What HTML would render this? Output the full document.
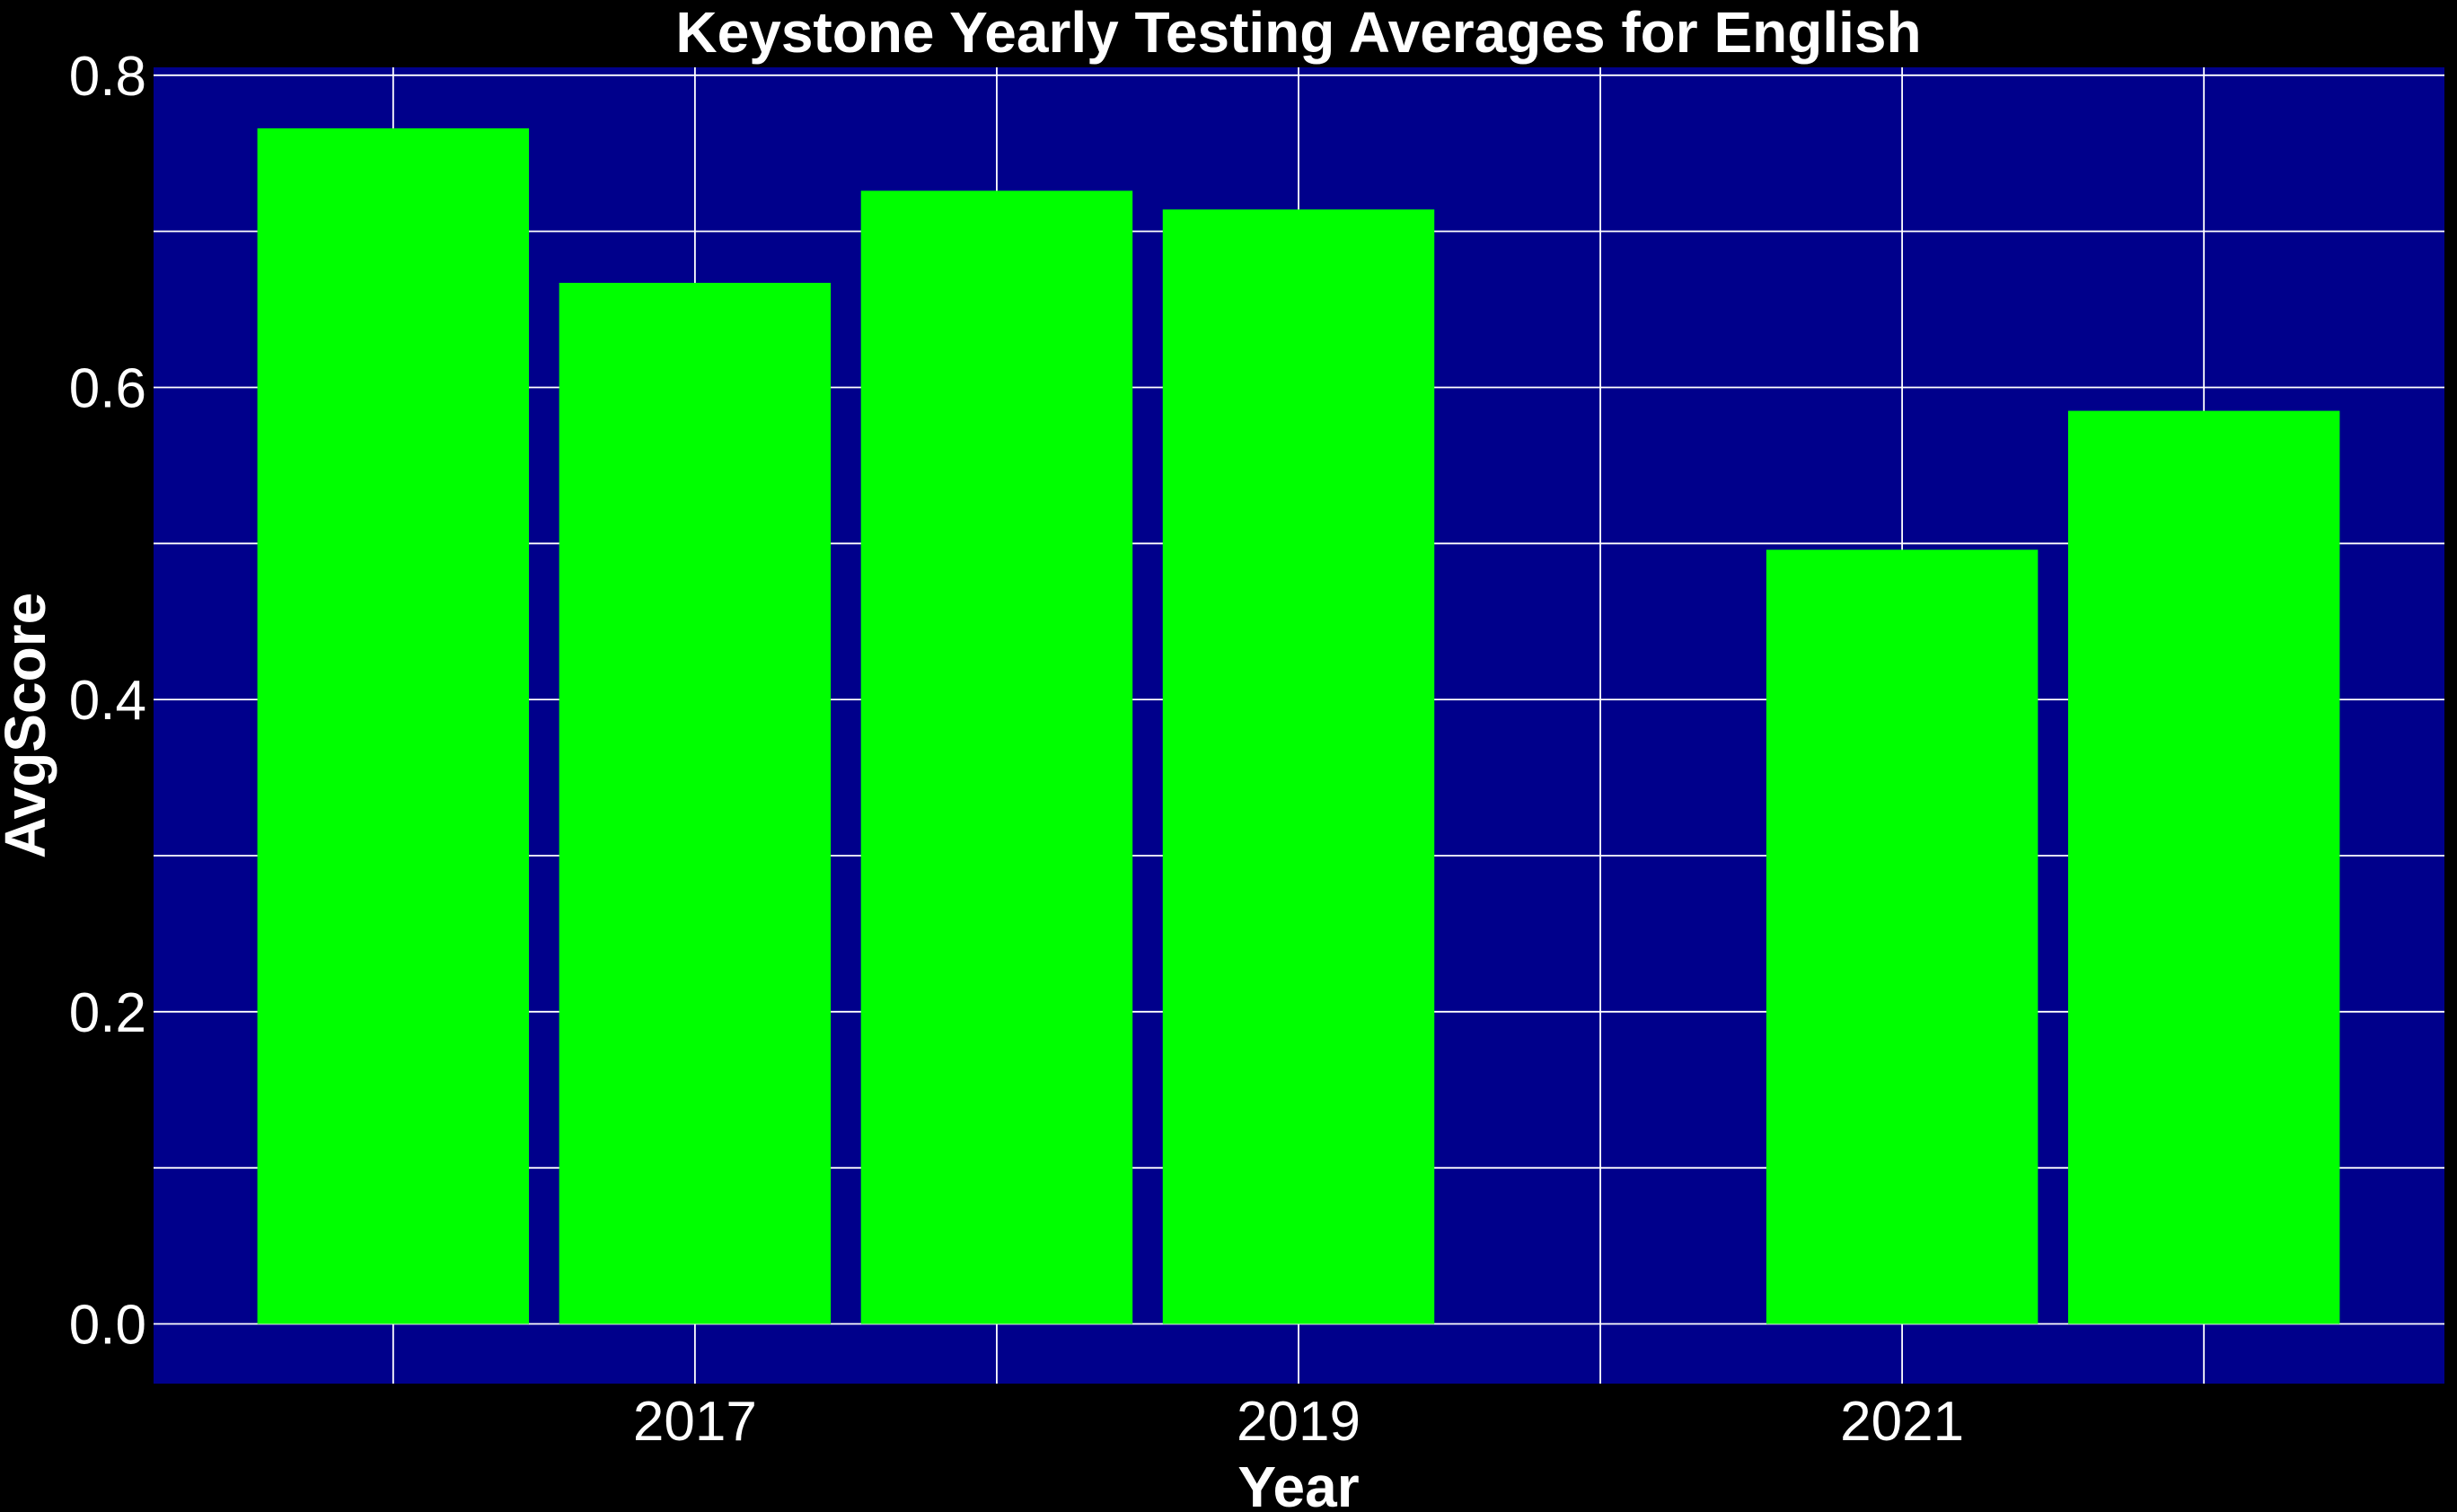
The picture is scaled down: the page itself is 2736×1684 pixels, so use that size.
<!DOCTYPE html>
<html><head><meta charset="utf-8"><style>
html,body{margin:0;padding:0;background:#000;}
svg{display:block}
text{font-family:"Liberation Sans",Arial,sans-serif;fill:#fff}
</style></head><body>
<svg id="chart" width="2736" height="1684" viewBox="0 0 2736 1684" xmlns="http://www.w3.org/2000/svg">
<rect x="0" y="0" width="2736" height="1684" fill="#000"/>
<rect x="171" y="75" width="2551" height="1466" fill="#00008B"/>
<g id="grid"></g>
<g id="bars"></g>
<g id="ticks"></g>
<text x="1446" y="58" font-size="64" font-weight="bold" text-anchor="middle">Keystone Yearly Testing Averages for English</text>
<text x="1446" y="1678" font-size="64" font-weight="bold" text-anchor="middle">Year</text>
<text transform="translate(50,808) rotate(-90)" font-size="64" font-weight="bold" text-anchor="middle">AvgScore</text>
</svg>
<script>
const years = [2016, 2017, 2018, 2019, 2021, 2022];
const scores = [0.766, 0.667, 0.726, 0.714, 0.496, 0.585];
const yTickLabels = ["0.0", "0.2", "0.4", "0.6", "0.8"];
const yTickValues = [0, 0.2, 0.4, 0.6, 0.8];
const xTickLabels = ["2017", "2019", "2021"];
const xTickValues = [2017, 2019, 2021];

(function () {
  const NS = "http://www.w3.org/2000/svg";
  const pL = 171, pR = 2722, pT = 75, pB = 1541;
  const xMin = 2015.206, xMax = 2022.797;
  const yPix0 = 1474.5, yPix08 = 83.8;
  const xs = v => pL + (v - xMin) / (xMax - xMin) * (pR - pL);
  const ys = v => yPix0 + (yPix08 - yPix0) * v / 0.8;
  const barW = 0.9 * (xs(1) - xs(0));

  function mk(tag, attrs, parent) {
    const e = document.createElementNS(NS, tag);
    for (const k in attrs) e.setAttribute(k, attrs[k]);
    parent.appendChild(e);
    return e;
  }
  const grid = document.getElementById('grid');
  for (let i = 0; i <= 8; i++) {
    const v = i / 10;
    const l = mk('line', {x1: pL, x2: pR, y1: ys(v), y2: ys(v), stroke: '#fff', 'stroke-width': 1.8}, grid);
    
    
  }
  for (let y = 2016; y <= 2022; y++) {
    const l = mk('line', {x1: xs(y), x2: xs(y), y1: pT, y2: pB, stroke: '#fff', 'stroke-width': 1.8}, grid);
    
    
  }
  const bars = document.getElementById('bars');
  years.forEach((yr, i) => {
    const r = mk('rect', {x: xs(yr) - barW / 2, y: ys(scores[i]), width: barW, height: ys(0) - ys(scores[i]), fill: '#00FF00'}, bars);
    
    
  });
  const ticks = document.getElementById('ticks');
  yTickValues.forEach((v, i) => {
    const t = mk('text', {x: 163, y: ys(v) + 22, 'font-size': 62, 'text-anchor': 'end'}, ticks);
    t.textContent = yTickLabels[i];
    
    
  });
  xTickValues.forEach((v, i) => {
    const t = mk('text', {x: xs(v), y: 1604, 'font-size': 62, 'text-anchor': 'middle'}, ticks);
    t.textContent = xTickLabels[i];
    
    
  });
})();
</script>
</body></html>
